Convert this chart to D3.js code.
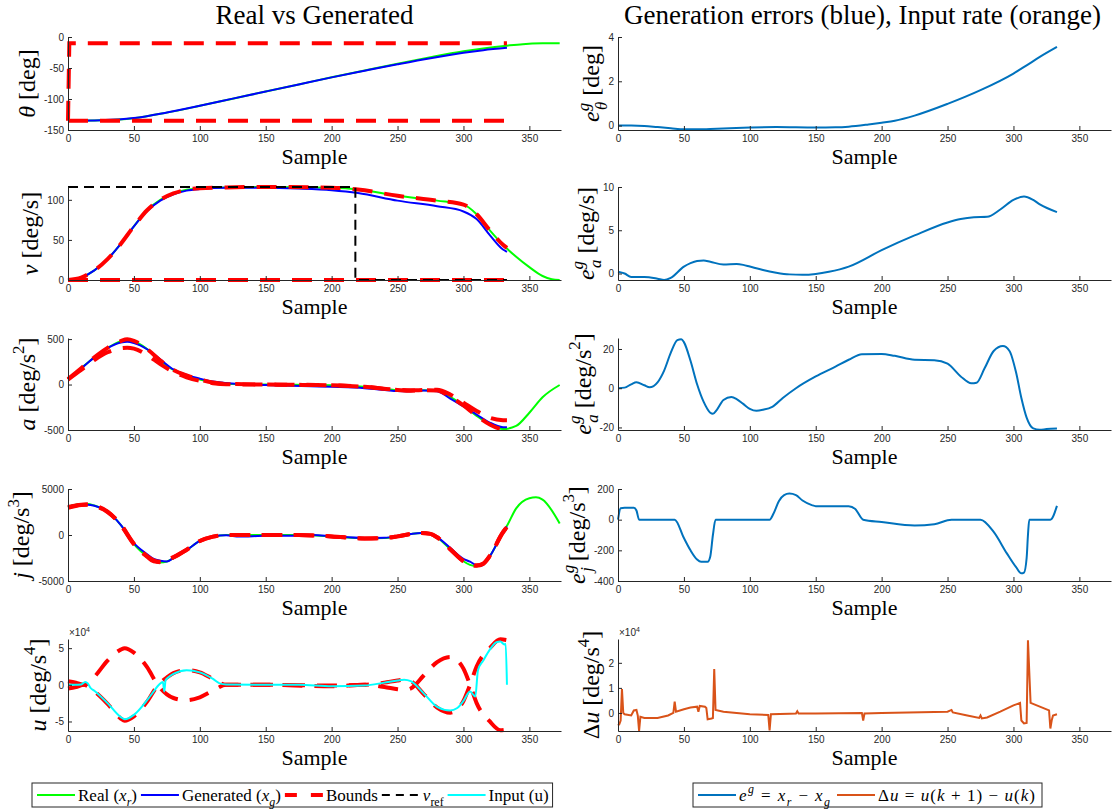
<!DOCTYPE html>
<html><head><meta charset="utf-8">
<script src="https://cdn.jsdelivr.net/npm/d3@7"></script>
<style>body{margin:0;background:#fff}</style>
</head><body>
<script>
// ---- data (sample, value) ----
var xTicks = [0, 50, 100, 150, 200, 250, 300, 350];

var thetaReal = [[0,-135],[25,-134.3],[50,-131],[75,-122],[100,-111],[125,-99.5],[150,-88],[175,-76.5],[200,-65],[225,-54],[250,-43],[275,-32.5],[300,-23],[315,-18.5],[333,-14],[345,-11.5],[360,-10.2],[373,-10]];
var thetaGen = [[0,-135],[25,-134.3],[50,-130.8],[75,-121.8],[100,-110.9],[125,-99.4],[150,-87.9],[175,-76.45],[200,-65.1],[225,-54.45],[250,-44],[275,-34.1],[300,-25.4],[315,-21.3],[333,-17.5]];
var thetaBoundUp = [[0,-135],[1,-10],[333,-10]];
var thetaBoundLo = [[0,-135],[333,-135]];

var vReal = [[0,0],[10,3],[20,12],[30,26],[40,45],[50,67],[60,87],[70,100],[80,108],[90,112.5],[100,114.5],[120,115.5],[150,116],[200,115],[220,113],[250,105],[280,99],[300,94],[310,82],[320,62],[330,44],[340,29],[350,16],[360,5],[367,1],[373,0]];
var vGen = [[0,0],[10,3],[20,12],[30,26],[40,45],[50,67],[60,86],[70,99],[80,107],[90,111.5],[100,113.5],[120,115],[150,115],[175,114],[200,112],[220,108.5],[250,99],[280,92],[300,85.5],[310,76],[320,56],[330,38],[333,35]];
var vBoundUp = [[0,0],[10,3],[20,12],[30,26],[40,45],[50,67],[60,87],[70,100],[80,108],[90,112.5],[100,114.5],[120,115.5],[150,116],[200,115],[220,113],[250,105],[280,99],[300,94],[310,82],[320,62],[330,44],[333,40]];
var vBoundLo = [[0,0],[333,0]];
var vRef = [[0,116],[218,116],[218,0],[333,0]];

var aReal = [[0,60],[10,180],[20,300],[30,403],[40,478],[45,495],[50,480],[60,390],[70,265],[80,160],[90,100],[100,55],[110,22],[120,8],[150,0],[200,-8],[225,-25],[250,-60],[260,-68],[270,-63],[280,-65],[290,-135],[300,-230],[310,-345],[320,-440],[330,-490],[340,-455],[350,-310],[360,-140],[373,-5]];
var aGen = [[0,60],[10,178],[20,299],[30,400],[40,462],[45,471],[50,457],[60,388],[70,277],[80,166],[90,106],[100,65],[110,33],[120,17],[150,-6],[200,-25],[225,-40],[250,-72],[260,-74],[270,-65],[280,-73],[290,-155],[300,-240],[310,-330],[320,-419],[330,-469],[333,-470]];
var aBoundA = [[0,60],[10,180],[20,300],[30,403],[40,478],[45,497],[50,480],[60,390],[70,265],[80,160],[90,100],[100,55],[110,22],[120,8],[150,0],[200,-8],[225,-25],[250,-60],[260,-68],[270,-63],[280,-65],[290,-135],[300,-230],[310,-345],[320,-440],[330,-492],[333,-493]];
var aBoundB = [[0,55],[10,160],[20,270],[30,355],[40,400],[45,405],[50,395],[60,325],[70,225],[80,140],[90,80],[100,40],[110,15],[120,3],[150,0],[200,-8],[225,-25],[250,-58],[260,-64],[270,-60],[280,-58],[290,-110],[300,-200],[310,-290],[320,-365],[330,-392],[333,-393]];

var jReal = [[0,3100],[10,3360],[15,3370],[20,3200],[30,2550],[40,1100],[50,-1000],[60,-2350],[65,-2870],[70,-3000],[75,-2880],[80,-2500],[90,-1650],[100,-650],[110,-180],[120,0],[150,0],[175,0],[200,-150],[225,-370],[240,-330],[250,-150],[260,110],[268,230],[275,120],[280,-250],[290,-1550],[300,-2850],[305,-3250],[310,-3400],[315,-3200],[320,-2300],[330,300],[333,1000],[340,2900],[350,4000],[355,4100],[360,3850],[373,1250]];
var jGen = [[0,3100],[10,3290],[15,3300],[20,3180],[30,2550],[40,1100],[50,-880],[60,-2090],[65,-2600],[70,-2800],[75,-2880],[80,-2500],[90,-1650],[100,-650],[110,-180],[120,-40],[130,-170],[150,-90],[175,-90],[186,0],[200,-135],[225,-330],[240,-300],[250,-150],[260,110],[268,230],[275,120],[280,-230],[290,-1400],[300,-2600],[305,-2900],[310,-3300],[313,-3350],[320,-2300],[330,300],[333,910]];
var jBoundA = [[0,3050],[10,3300],[15,3350],[20,3200],[30,2550],[40,1100],[50,-1000],[60,-2350],[65,-2870],[70,-2950],[75,-2700],[80,-2400],[90,-1600],[100,-650],[110,-180],[120,0],[150,0],[175,0],[200,-150],[225,-370],[240,-330],[250,-150],[260,110],[268,230],[275,120],[280,-250],[290,-1550],[300,-2850],[305,-3300],[310,-3350],[315,-3150],[320,-2300],[330,300],[333,860]];
var jBoundB = [[0,2950],[10,3250],[15,3300],[20,3150],[30,2500],[40,1150],[50,-950],[60,-2300],[65,-2750],[70,-2900],[75,-2750],[80,-2450],[90,-1600],[100,-650],[110,-180],[120,0],[150,0],[175,0],[200,-150],[225,-370],[240,-330],[250,-150],[260,110],[268,230],[275,120],[280,-250],[290,-1550],[300,-2850],[305,-3200],[310,-3300],[315,-3100],[320,-2250],[330,300],[333,860]];

// u in units of 1e4
var uBoundA = [[0,-0.5],[6,-0.3],[12,0],[20,-0.9],[30,-2.6],[40,-4.6],[43,-4.9],[50,-4.3],[60,-2.3],[68,-0.1],[75,1.0],[80,1.6],[90,2.0],[100,1.7],[110,0.8],[120,0],[150,0],[200,-0.1],[225,0],[240,0.3],[250,0.6],[255,0.7],[260,0.5],[270,-1.3],[280,-3.1],[290,-3.8],[295,-3.4],[300,-2.2],[305,0],[310,2.5],[320,5.0],[328,6.2],[333,6.1]];
var uBoundB = [[0,0.5],[6,0.3],[12,0],[20,1.1],[30,3.3],[40,4.8],[43,5.0],[50,4.4],[60,2.4],[68,0],[75,-1.3],[80,-1.8],[90,-2.1],[100,-1.7],[110,-0.8],[120,0],[150,0],[200,-0.2],[225,0],[240,-0.3],[250,-0.6],[255,-0.7],[260,-0.5],[270,1.3],[280,3.1],[290,3.8],[295,3.4],[300,2.2],[305,0],[310,-2.5],[320,-5.0],[328,-6.2],[333,-6.1]];
var uInput = [[0,0],[5,0],[10,0.05],[13,0.4],[15,0.2],[17,-0.4],[20,-0.8],[30,-2.5],[40,-4.4],[43,-4.7],[50,-4.1],[60,-2.1],[65,-0.9],[69,0],[72,0.4],[73,-0.9],[74,0.6],[76,1.0],[80,1.5],[90,2.0],[100,1.7],[110,0.8],[115,0.2],[120,0.05],[150,0],[175,0],[200,-0.2],[225,-0.1],[240,0.3],[250,0.6],[255,0.7],[260,0.5],[270,-1.2],[280,-3.0],[290,-3.5],[295,-3.2],[300,-2.2],[305,-0.9],[309,-1.6],[311,2.0],[315,3.3],[320,4.8],[325,5.8],[328,5.9],[331,5.5],[332,5.6],[333,0]];

var eTheta = [[0,0],[10,0],[20,-0.02],[30,-0.07],[40,-0.12],[50,-0.17],[60,-0.17],[75,-0.14],[100,-0.09],[120,-0.07],[150,-0.09],[165,-0.08],[175,-0.05],[190,0.05],[200,0.13],[210,0.22],[225,0.45],[250,0.98],[275,1.6],[300,2.35],[310,2.72],[320,3.1],[333,3.55]];
var eV = [[0,0.2],[5,0],[10,-0.4],[20,-0.4],[30,-0.6],[35,-0.75],[40,-0.5],[50,0.8],[55,1.2],[60,1.45],[65,1.5],[70,1.35],[80,1.05],[90,1.1],[95,1.0],[100,0.8],[110,0.4],[120,0.1],[130,-0.1],[140,-0.15],[150,-0.05],[160,0.2],[175,0.8],[200,2.7],[225,4.4],[250,5.9],[260,6.3],[270,6.5],[280,6.55],[290,7.4],[300,8.5],[308,8.9],[315,8.5],[320,8.0],[333,7.1]];
var eA = [[0,0],[5,0.3],[10,2],[14,3],[20,1.5],[24,0.5],[30,3],[35,9],[40,18],[45,24.5],[48,25],[50,23.5],[55,14],[60,2],[65,-7],[70,-12.5],[72,-13],[75,-11],[80,-6],[86,-4.5],[90,-5.5],[95,-8],[100,-10.5],[105,-11.5],[110,-11],[117,-9.5],[125,-5],[135,0],[150,6],[165,11],[175,14.5],[185,17.3],[200,17.5],[210,16.5],[225,14.5],[240,14.3],[250,12.5],[260,6],[268,2.5],[272,2.8],[278,10],[285,19],[292,21.5],[297,19],[302,8],[306,-5],[310,-15],[315,-20.5],[320,-21.2],[325,-20.8],[333,-20.5]];
var eJ = [[0,0],[2,75],[5,78],[12,78],[14,60],[16,0],[20,0],[43,0],[50,-120],[55,-200],[60,-260],[63,-275],[68,-275],[70,-240],[72,-100],[74,0],[115,0],[118,40],[122,120],[126,160],[130,170],[135,160],[140,125],[147,95],[150,88],[175,88],[180,70],[186,0],[200,-15],[225,-38],[240,-30],[253,0],[275,0],[285,-80],[295,-220],[302,-310],[306,-350],[308,-345],[310,-250],[311,-100],[312,0],[328,0],[333,90]];
var duRate = [[0,-0.5],[1,-0.45],[2,-0.3],[3,0.95],[4,0.0],[5,-0.05],[10,-0.1],[12,0.1],[14,0.12],[15,-0.1],[16,-0.72],[17,-0.15],[20,-0.2],[30,-0.2],[38,-0.1],[42,0.0],[43,0.45],[44,0.05],[50,0.15],[55,0.22],[60,0.25],[61,0.05],[62,0.28],[66,0.25],[67,0.2],[68,-0.25],[71,-0.22],[72,-0.2],[73,1.75],[74,0.12],[80,0.05],[100,-0.05],[114,-0.08],[115,-0.7],[116,-0.05],[130,-0.03],[135,-0.02],[136,0.07],[137,-0.02],[150,-0.02],[185,0.0],[186,-0.3],[187,-0.02],[200,0.0],[250,0.05],[253,0.12],[254,0.02],[265,-0.1],[274,-0.2],[275,-0.1],[276,-0.22],[280,-0.18],[290,0.05],[300,0.3],[305,0.4],[306,-0.3],[308,-0.42],[310,-0.4],[311,2.9],[313,0.4],[320,0.25],[327,0.1],[328,-0.62],[329,-0.3],[330,-0.1],[333,-0.05]];

// ---- drawing ----
var SERIF = "'Liberation Serif', 'DejaVu Serif', serif";
var SANS = "'Liberation Sans', Arial, sans-serif";
var AX = "#262626";
var W = 493;
var GREEN = "#00ff00", BLUE = "#0000ff", RED = "#ff0000", CYAN = "#00ffff",
    MBLUE = "#0072bd", ORANGE = "#d95319";
var RDASH = "20,12", KDASH = "10,6";

var svg = d3.select("body").append("svg")
    .attr("width", 1113).attr("height", 810)
    .style("background", "#fff");

// parts: {s, i (italic), p (baseline offset in em, negative = up), dx}
function rich(text, parts, size) {
  var cur = 0;
  parts.forEach(function(p) {
    var off = (p.p || 0) * size;
    var ts = text.append("tspan").text(p.s)
      .attr("dy", off - cur)
      .style("font-size", (p.p ? size * 0.7 : size) + "px")
      .style("font-style", p.i ? "italic" : "normal");
    if (p.dx) ts.attr("dx", p.dx);
    cur = off;
  });
}

function panel(cfg) {
  var x = d3.scaleLinear().domain([0, 374]).range([cfg.left, cfg.left + W]);
  var y = d3.scaleLinear().domain(cfg.ylim).range([cfg.bottom, cfg.top]);
  var g = svg.append("g");

  cfg.series.forEach(function(s) {
    var line = d3.line()
      .x(function(d) { return x(d[0]); })
      .y(function(d) { return y(d[1]); })
      .curve(s.curve || d3.curveMonotoneX);
    g.append("path").datum(s.data)
      .attr("d", line)
      .attr("fill", "none")
      .attr("stroke", s.color)
      .attr("stroke-width", s.w || 2)
      .attr("stroke-dasharray", s.dash || null);
  });

  var xa = g.append("g")
    .attr("transform", "translate(0," + cfg.bottom + ")")
    .call(d3.axisBottom(x).tickValues(xTicks).tickSizeInner(-4).tickSizeOuter(0).tickPadding(5)
      .tickFormat(function(d) { return String(d); }));
  var ya = g.append("g")
    .attr("transform", "translate(" + cfg.left + ",0)")
    .call(d3.axisLeft(y).tickValues(cfg.yticks).tickSizeInner(-4).tickSizeOuter(0).tickPadding(4)
      .tickFormat(function(d) { return String(d); }));
  [xa, ya].forEach(function(a) {
    a.select(".domain").attr("stroke", AX);
    a.selectAll(".tick line").attr("stroke", AX);
    a.selectAll("text").attr("fill", AX).style("font-family", SANS).style("font-size", "10px");
  });

  g.append("text")
    .attr("x", cfg.left + W / 2).attr("y", cfg.bottom + 34)
    .attr("text-anchor", "middle")
    .style("font-family", SERIF).style("font-size", "22px").attr("fill", "#000")
    .text("Sample");

  // y label sits just left of the widest tick label
  var tw = d3.max(ya.selectAll(".tick text").nodes(), function(n) { return n.getComputedTextLength(); });
  var yl = g.append("text")
    .attr("transform", "translate(" + (cfg.left - tw - 13) + "," + ((cfg.top + cfg.bottom) / 2) + ") rotate(-90)")
    .attr("text-anchor", "middle")
    .style("font-family", SERIF).attr("fill", "#000");
  rich(yl, cfg.label, 24);

  if (cfg.exp) {
    var et = g.append("text")
      .attr("x", cfg.left + 1).attr("y", cfg.top - 3)
      .style("font-family", SANS).attr("fill", AX);
    rich(et, [{s: "\u00d710"}, {s: "4", p: -0.45}], 10);
  }
}

var L = 68, R = 618;
var rows = [[37, 130], [187, 280], [338, 430], [489, 581], [639, 731]];

panel({left: L, top: rows[0][0], bottom: rows[0][1], ylim: [-150, 0], yticks: [-150, -100, -50, 0],
  label: [{s: "\u03b8", i: true}, {s: " [deg]"}],
  series: [
    {data: thetaReal, color: GREEN},
    {data: thetaGen, color: BLUE},
    {data: thetaBoundUp, color: RED, w: 4, dash: RDASH, curve: d3.curveLinear},
    {data: thetaBoundLo, color: RED, w: 4, dash: RDASH, curve: d3.curveLinear}
  ]});
panel({left: L, top: rows[1][0], bottom: rows[1][1], ylim: [0, 116], yticks: [0, 50, 100],
  label: [{s: "v", i: true}, {s: " [deg/s]"}],
  series: [
    {data: vReal, color: GREEN},
    {data: vGen, color: BLUE},
    {data: vBoundUp, color: RED, w: 4, dash: RDASH},
    {data: vBoundLo, color: RED, w: 4, dash: RDASH, curve: d3.curveLinear},
    {data: vRef, color: "#000", w: 2, dash: KDASH, curve: d3.curveLinear}
  ]});
panel({left: L, top: rows[2][0], bottom: rows[2][1], ylim: [-500, 512], yticks: [-500, 0, 500],
  label: [{s: "a", i: true}, {s: " [deg/s"}, {s: "2", p: -0.45}, {s: "]"}],
  series: [
    {data: aReal, color: GREEN},
    {data: aGen, color: BLUE},
    {data: aBoundA, color: RED, w: 4, dash: RDASH},
    {data: aBoundB, color: RED, w: 4, dash: RDASH}
  ]});
panel({left: L, top: rows[3][0], bottom: rows[3][1], ylim: [-5000, 5000], yticks: [-5000, 0, 5000],
  label: [{s: "j", i: true}, {s: " [deg/s"}, {s: "3", p: -0.45}, {s: "]"}],
  series: [
    {data: jReal, color: GREEN},
    {data: jGen, color: BLUE},
    {data: jBoundA, color: RED, w: 4, dash: RDASH},
    {data: jBoundB, color: RED, w: 4, dash: RDASH}
  ]});
panel({left: L, top: rows[4][0], bottom: rows[4][1], ylim: [-6.3, 6.25], yticks: [-5, 0, 5], exp: true,
  label: [{s: "u", i: true}, {s: " [deg/s"}, {s: "4", p: -0.45}, {s: "]"}],
  series: [
    {data: uBoundA, color: RED, w: 4, dash: RDASH},
    {data: uBoundB, color: RED, w: 4, dash: RDASH},
    {data: uInput, color: CYAN}
  ]});

function eLab(sub, tail) {
  var parts = [{s: "e", i: true}, {s: "g", i: true, p: -0.45}, {s: sub, i: true, p: 0.3, dx: -7}];
  return parts.concat(tail);
}

panel({left: R, top: rows[0][0], bottom: rows[0][1], ylim: [-0.2, 4], yticks: [0, 2, 4],
  label: eLab("\u03b8", [{s: " [deg]"}]),
  series: [{data: eTheta, color: MBLUE}]});
panel({left: R, top: rows[1][0], bottom: rows[1][1], ylim: [-0.75, 10], yticks: [0, 5, 10],
  label: eLab("a", [{s: " [deg/s]"}]),
  series: [{data: eV, color: MBLUE}]});
panel({left: R, top: rows[2][0], bottom: rows[2][1], ylim: [-21.3, 25.6], yticks: [-20, 0, 20],
  label: eLab("a", [{s: " [deg/s"}, {s: "2", p: -0.45}, {s: "]"}]),
  series: [{data: eA, color: MBLUE}]});
panel({left: R, top: rows[3][0], bottom: rows[3][1], ylim: [-400, 200], yticks: [-400, -200, 0, 200],
  label: eLab("j", [{s: " [deg/s"}, {s: "3", p: -0.45}, {s: "]"}]),
  series: [{data: eJ, color: MBLUE}]});
panel({left: R, top: rows[4][0], bottom: rows[4][1], ylim: [-0.72, 2.95], yticks: [0, 1, 2], exp: true,
  label: [{s: "\u0394"}, {s: "u", i: true}, {s: " [deg/s"}, {s: "4", p: -0.45}, {s: "]"}],
  series: [{data: duRate, color: ORANGE, curve: d3.curveLinear}]});

// titles
svg.append("text").attr("x", L + W / 2).attr("y", 24).attr("text-anchor", "middle")
  .style("font-family", SERIF).style("font-size", "27px").text("Real vs Generated");
svg.append("text").attr("x", R + W / 2 - 2).attr("y", 24).attr("text-anchor", "middle")
  .style("font-family", SERIF).style("font-size", "27px").text("Generation errors (blue), Input rate (orange)");

// legends
function legend(x0, gap, items) {
  var g = svg.append("g");
  var box = g.append("rect").attr("y", 783).attr("height", 24)
    .attr("fill", "#fff").attr("stroke", AX).attr("stroke-width", 1);
  var cx = x0 + 5;
  items.forEach(function(it) {
    g.append("line").attr("x1", cx).attr("x2", cx + 38).attr("y1", 795).attr("y2", 795)
      .attr("stroke", it.color).attr("stroke-width", it.w || 2).attr("stroke-dasharray", it.dash || null);
    var t = g.append("text").attr("x", cx + 41).attr("y", 801)
      .style("font-family", SERIF).attr("fill", "#000");
    rich(t, it.parts, 17);
    if (it.len) t.attr("textLength", it.len).attr("lengthAdjust", "spacing");
    cx += 41 + (it.len || t.node().getComputedTextLength()) + gap;
  });
  box.attr("x", x0).attr("width", cx - x0);
}
legend(32, 4, [
  {color: GREEN, parts: [{s: "Real ("}, {s: "x", i: true}, {s: "r", i: true, p: 0.3}, {s: ")"}]},
  {color: BLUE, parts: [{s: "Generated ("}, {s: "x", i: true}, {s: "g", i: true, p: 0.3}, {s: ")"}]},
  {color: RED, w: 4, dash: "12,14", parts: [{s: "Bounds"}]},
  {color: "#000", dash: "8,6", parts: [{s: "v", i: true}, {s: "ref", p: 0.3}]},
  {color: CYAN, parts: [{s: "Input (u)"}]}
]);
legend(693, 7, [
  {color: MBLUE, len: 91, parts: [{s: "e", i: true}, {s: "g", i: true, p: -0.45}, {s: " = "}, {s: "x", i: true}, {s: "r", i: true, p: 0.3}, {s: " \u2212 "}, {s: "x", i: true}, {s: "g", i: true, p: 0.3}]},
  {color: ORANGE, len: 157, parts: [{s: "\u0394"}, {s: "u", i: true}, {s: " = "}, {s: "u", i: true}, {s: "("}, {s: "k", i: true}, {s: " + 1) \u2212 "}, {s: "u", i: true}, {s: "("}, {s: "k", i: true}, {s: ")"}]}
]);
</script>
</body></html>
